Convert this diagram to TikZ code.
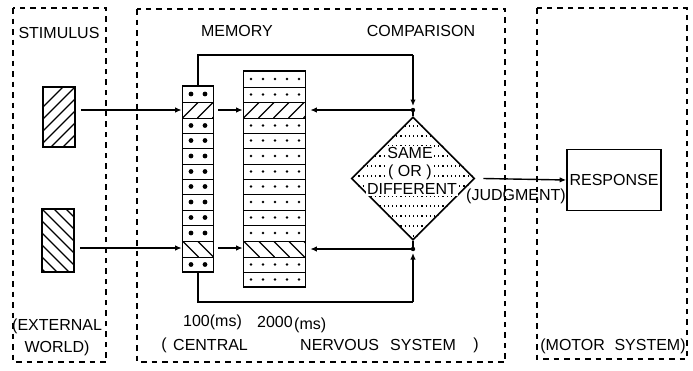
\documentclass[tikz,border=0pt]{standalone}
\usepackage{fontspec}
\setmainfont{Liberation Sans}
\usetikzlibrary{arrows.meta,shapes.geometric}
\tikzset{
  lab/.style={font=\fontsize{16}{16}\selectfont, inner sep=0pt},
  boxs/.style={draw, line width=1.6pt, inner sep=0pt},
  dbox/.style={draw, line width=1.3pt, dash pattern=on 5.5pt off 5pt},
  arr/.style={-{Latex[length=6.5pt,width=5.5pt]}, line width=1.4pt},
  conn/.style={line width=1.4pt},
  sep/.style={line width=0.9pt},
  hatch/.style={line width=1.1pt},
  dotline/.style={line width=1.1pt, dash pattern=on 1.2pt off 3pt}
}
\begin{document}
\begin{tikzpicture}[x=1pt,y=-1pt]
\useasboundingbox (0,0) rectangle (693,370);

% dashed frames
\draw[dbox] (13,8) rectangle (106,362);
\draw[dbox] (137,9) rectangle (505,362);
\draw[dbox] (537,8) rectangle (687,359);

% stimulus boxes
\begin{scope}
\clip (43,87) rectangle (75,147);
\foreach \k in {-1,...,6} \draw[hatch] (43,87+\k*12+32) -- (75,87+\k*12);
\end{scope}
\node[boxs, minimum width=32, minimum height=60] (s1) at (59,117) {};
\begin{scope}
\clip (42,209) rectangle (74,272);
\foreach \k in {-4,...,5} \draw[hatch] (42,209+\k*12) -- (74,209+\k*12+32);
\end{scope}
\node[boxs, minimum width=32, minimum height=63] (s2) at (58,240.5) {};

% small memory column (x 182.5-213.5, y 86-272)
\foreach \a/\b in {86/102,118/133,133/148,148/164,164/179,179/194,194/210,210/225,225/241,257/272}{
  \fill (191,{(\a+\b)/2}) circle (2.4);
  \fill (205,{(\a+\b)/2}) circle (2.4);
}
\foreach \y in {102,118,133,148,164,179,194,210,225,241,257}
  \draw[sep] (182.5,\y) -- (213.5,\y);
\begin{scope}
\clip (182.5,102) rectangle (213.5,118);
\foreach \k in {0,1,2} \draw[hatch] (182.5+\k*15,118) -- (198.5+\k*15,102);
\end{scope}
\begin{scope}
\clip (182.5,241) rectangle (213.5,257);
\foreach \k in {0,1,2} \draw[hatch] (182.5+\k*15,241) -- (198.5+\k*15,257);
\end{scope}
\node[boxs, minimum width=31, minimum height=186] (m1) at (198,179) {};

% big memory column (x 243.5-305.5, y 71-287)
\foreach \a/\b in {71/87,87/102,118/133,133/148,148/164,164/179,179/194,194/210,210/225,225/241,257/272,272/287}{
  \foreach \x in {251,263,275,287,299}
    \fill (\x,{(\a+\b)/2}) circle (1.4);
}
\foreach \y in {87,102,118,133,148,164,179,194,210,225,241,257,272}
  \draw[sep] (243.5,\y) -- (305.5,\y);
\begin{scope}
\clip (243.5,102) rectangle (305.5,118);
\foreach \k in {0,...,4} \draw[hatch] (243.5+\k*15,118) -- (259.5+\k*15,102);
\end{scope}
\begin{scope}
\clip (243.5,241) rectangle (305.5,257);
\foreach \k in {0,...,4} \draw[hatch] (243.5+\k*15,241) -- (259.5+\k*15,257);
\end{scope}
\node[boxs, minimum width=62, minimum height=216] (m2) at (274.5,179) {};

% comparison diamond
\node[draw, line width=1.6pt, diamond, aspect=1, inner sep=0pt, minimum width=123, minimum height=123] (dia) at (413,178.5) {};
\begin{scope}
\clip (dia.north) -- (dia.east) -- (dia.south) -- (dia.west) -- cycle;
\foreach \y in {126,136,...,236} \draw[dotline] (350,\y) -- (480,\y);
\end{scope}
\node[lab, fill=white, inner sep=1pt] (t1) at (410,153) {SAME};
\node[lab, fill=white, inner sep=1pt] (t2) at (410,172) {( OR )};
\node[lab, fill=white, inner sep=1pt] (t3) at (412,189) {DIFFERENT};

% response
\node[boxs, lab, draw, line width=1.6pt, minimum width=94, minimum height=61] (resp) at (614,180) {RESPONSE};

% coordinates
\coordinate (h1) at (0,110);
\coordinate (h2) at (0,248);
\coordinate (jt) at (413,110);
\coordinate (jb) at (413,249);
\coordinate (topc) at (413,55);
\coordinate (botc) at (413,302);

% connectors
\draw[arr] ([xshift=5pt]s1.east |- h1) -- (m1.west |- h1);
\draw[arr] ([xshift=5pt]s2.east |- h2) -- (m1.west |- h2);
\draw[arr] ([xshift=4pt]m1.east |- h1) -- (m2.west |- h1);
\draw[arr] ([xshift=4pt]m1.east |- h2) -- (m2.west |- h2);
\draw[conn] (m1.north) |- (topc);
\draw[arr, shorten >=4pt] (topc) -- (jt);
\draw[conn] (m1.south) |- (botc);
\draw[arr, shorten >=4pt] (botc) -- (jb);
\fill (jt) circle (2.2);
\fill (jb) circle (2.2);
\draw[conn] (jt) -- (dia.north);
\draw[conn] (jb) -- (dia.south);
\draw[arr, shorten >=4pt] (jt) -- (m2.east |- jt);
\draw[arr, shorten >=4pt] (jb) -- (m2.east |- jb);
\draw[arr] ([xshift=8pt]dia.east) -- (resp.west);

% labels
\node[lab] (l1) at (59,33) {STIMULUS};
\node[lab, anchor=west] (l2) at (12,326) {(EXTERNAL};
\node[lab] (l3) at (57,348) {WORLD)};
\node[lab] (l4) at (237,31) {MEMORY};
\node[lab] (l5) at (421,31) {COMPARISON};
\node[lab, anchor=west] (l6) at (183,322) {100(ms)};
\node[lab, anchor=west] (l7) at (257,322) {2000};
\node[lab, anchor=west] (l8) at (294,325) {(ms)};
\node[lab] (l9) at (164,345) {(};
\node[lab, anchor=west] (l10) at (173,345) {CENTRAL};
\node[lab, anchor=west] (l11) at (300,345) {NERVOUS};
\node[lab, anchor=west] (l12) at (390,345) {SYSTEM};
\node[lab] (l13) at (476,345) {)};
\node[lab] (l14) at (613,346) {(MOTOR\hspace{0.6em}SYSTEM)};
\node[lab] (l15) at (516,196) {(JUDGMENT)};
\end{tikzpicture}
\end{document}
